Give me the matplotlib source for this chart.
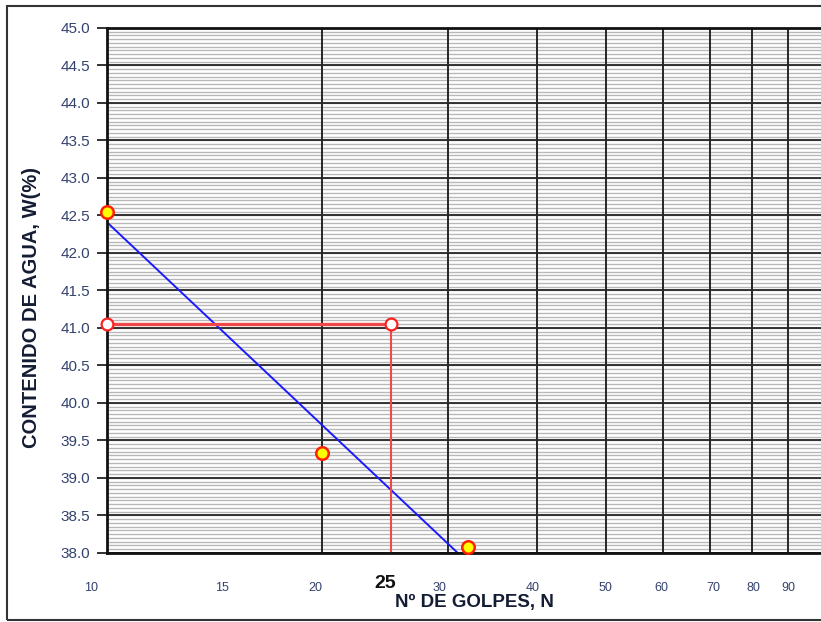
import matplotlib
matplotlib.use("Agg")
import matplotlib.pyplot as plt
from matplotlib.patches import Rectangle
from matplotlib.transforms import ScaledTranslation, blended_transform_factory
import numpy as np

# ---- data ----
golpes = [10, 20, 32]
humedad = [42.55, 39.33, 38.08]
trend_n = [10, 31]
trend_w = [42.41, 38.0]
ll_n = [10, 25]
ll_w = [41.05, 41.05]
ll_floor = 38.0
xtick_vals = [10, 15, 20, 30, 40, 50, 60, 70, 80, 90]
xtick_labels = ["10", "15", "20", "30", "40", "50", "60", "70", "80", "90"]
xgrid_vals = [20, 30, 40, 50, 60, 70, 80, 90]
ytick_vals = [38.0, 38.5, 39.0, 39.5, 40.0, 40.5, 41.0, 41.5, 42.0, 42.5,
              43.0, 43.5, 44.0, 44.5, 45.0]

W, H = 821, 622
fig = plt.figure(figsize=(W / 100, H / 100), dpi=100)
fig.patch.set_facecolor("white")

# outer border of the chart area
fig.patches.append(Rectangle((7 / W, 1 - 620 / H), 900 / W, (620 - 6) / H,
                             transform=fig.transFigure, fill=False,
                             edgecolor="#333333", lw=1.5, zorder=0))

ax = fig.add_axes([107 / W, (H - 553) / H, (821 - 107) / W, (553 - 28) / H])
ax.set_xscale("log")
ax.set_xlim(10, 100)
ax.set_ylim(38.0, 45.0)

# minor horizontal grid every 0.05
minor_y = np.round(np.arange(38.0, 45.0001, 0.05), 2)
for y in minor_y:
    ax.axhline(y, color="#b8b8b8", lw=1.0, zorder=1)
for y in ytick_vals:
    ax.axhline(y, color="#262626", lw=1.3, zorder=2)
for x in xgrid_vals:
    ax.axvline(x, color="#262626", lw=1.4, zorder=2)

# trend line
ax.plot(trend_n, trend_w, color="#1a1aff", lw=1.4, zorder=4)

# liquid limit construction
ax.plot(ll_n, ll_w, color="#f04848", lw=2.4, zorder=5)
ax.plot([ll_n[1], ll_n[1]], [ll_w[1], ll_floor], color="#f04848", lw=1.5, zorder=5)
ax.plot(ll_n, ll_w, linestyle="none", marker="o", ms=8.5, mfc="white",
        mec="#ff2020", mew=1.6, zorder=7, clip_on=False)

# data points
ax.plot(golpes, humedad, linestyle="none", marker="o", ms=9, mfc="#ffff00",
        mec="#ff2000", mew=1.8, zorder=8, clip_on=False)

# y axis
ax.set_yticks(ytick_vals)
ax.set_yticklabels([f"{v:.1f}" for v in ytick_vals], fontsize=11,
                   color="#34426e", family="Liberation Sans")
ax.tick_params(axis="y", direction="out", length=7, width=1.3, color="#222222", pad=5)

# x axis labels
ax.set_xticks(xtick_vals)
ax.set_xticks([], minor=True)
ax.set_xticklabels(xtick_labels, fontsize=9, color="#34426e", family="Liberation Sans")
ax.tick_params(axis="x", length=0, pad=21)
offs = {10: -16, 15: -11, 20: -7, 30: -8, 40: -4, 50: -1, 60: -1, 70: 3, 80: 2, 90: 0}
for v, lab in zip(xtick_vals, ax.get_xticklabels()):
    lab.set_transform(lab.get_transform() + ScaledTranslation(offs[v] / 100, 0, fig.dpi_scale_trans))

trans = blended_transform_factory(ax.transData, fig.transFigure)
ax.text(25, 1 - 584 / H, "25", transform=trans + ScaledTranslation(-6 / 100, 0, fig.dpi_scale_trans),
        ha="center", va="center", fontsize=14, fontweight="bold", color="#111111",
        family="Liberation Sans")

fig.text(474 / W, 1 - 603 / H, "Nº DE GOLPES, N", ha="center", va="center",
         fontsize=13.5, fontweight="bold", color="#141c33", family="Liberation Sans")
fig.text(32 / W, 1 - 308 / H, "CONTENIDO DE AGUA, W(%)", ha="center", va="center",
         rotation=90, fontsize=14.5, fontweight="bold", color="#141c33",
         family="Liberation Sans")

for s in ["left", "bottom", "top"]:
    ax.spines[s].set_color("#111111")
    ax.spines[s].set_linewidth(2)
    ax.spines[s].set_zorder(6)
ax.spines["right"].set_visible(False)

fig.savefig("out.png", dpi=100)
